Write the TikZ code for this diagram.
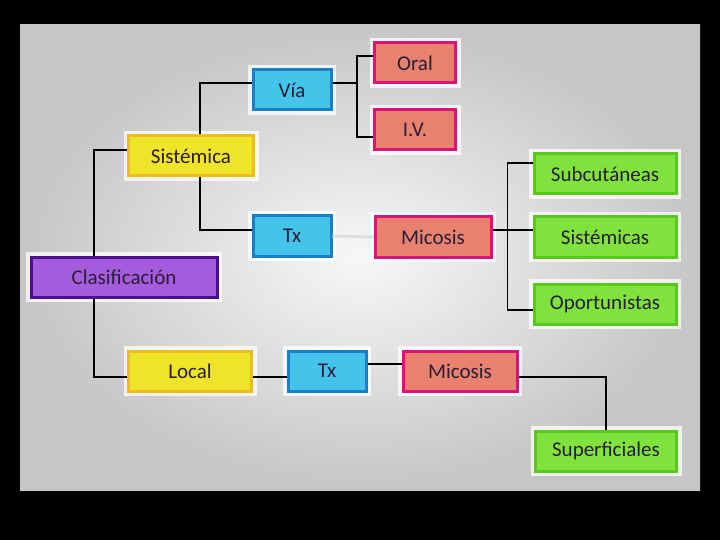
\documentclass[tikz,border=0pt]{standalone}
\usepackage{fontspec}
\setmainfont{Carlito}
\definecolor{purF}{HTML}{A45CDC}\definecolor{purD}{HTML}{4A0E8E}
\definecolor{yelF}{HTML}{F0E428}\definecolor{yelD}{HTML}{E8BE22}
\definecolor{bluF}{HTML}{44C4EA}\definecolor{bluD}{HTML}{1A7EC8}
\definecolor{pinF}{HTML}{E8826E}\definecolor{pinD}{HTML}{D4167C}
\definecolor{grnF}{HTML}{80E23C}\definecolor{grnD}{HTML}{56C81E}
\definecolor{txt}{HTML}{2A1E36}
\begin{document}
\begin{tikzpicture}[x=1pt,y=-1pt,
  box/.style={rectangle,line width=3pt,inner sep=0pt,
    font=\fontsize{21}{24}\selectfont,text=txt,minimum height=40pt,
    preaction={draw=white,line width=10pt,opacity=0.75}},
  purbox/.style={box,draw=purD,fill=purF},
  yelbox/.style={box,draw=yelD,fill=yelF},
  blubox/.style={box,draw=bluD,fill=bluF},
  pinbox/.style={box,draw=pinD,fill=pinF},
  grnbox/.style={box,draw=grnD,fill=grnF},
  conn/.style={draw=black,line width=1.3pt},
  faint/.style={draw=white!75!gray,line width=3pt}]
\useasboundingbox (0,0) rectangle (720,540);
\fill[black] (0,0) rectangle (720,540);
\shade[inner color=gray!6,outer color=gray!45] (20,25) rectangle (700,490);
% nodes
\node[purbox,minimum width=186pt] (clas) at (124,277) {Clasificación};
\node[yelbox,minimum width=125pt] (sist) at (191,156) {Sistémica};
\node[yelbox,minimum width=123pt] (local) at (190,371) {Local};
\node[blubox,minimum width=78pt] (via) at (292,90) {Vía};
\node[blubox,minimum width=78pt] (tx1) at (292,236) {Tx};
\node[blubox,minimum width=78pt] (tx2) at (327,371) {Tx};
\node[pinbox,minimum width=81pt] (oral) at (415,63) {Oral};
\node[pinbox,minimum width=81pt] (iv) at (415,130) {I.V.};
\node[pinbox,minimum width=116pt] (mic1) at (433,237) {Micosis};
\node[pinbox,minimum width=114pt] (mic2) at (460,371) {Micosis};
\node[grnbox,minimum width=142pt] (sub) at (605,174) {Subcutáneas};
\node[grnbox,minimum width=142pt] (sis) at (605,237) {Sistémicas};
\node[grnbox,minimum width=142pt] (opo) at (605,304) {Oportunistas};
\node[grnbox,minimum width=141pt] (sup) at (606,451) {Superficiales};
% connectors
\coordinate (vj) at (357,83);
\draw[faint] (tx1.east) -- (mic1.west);
\draw[conn] ([xshift=-30pt]clas.north) |- ([yshift=6pt]sist.west);
\draw[conn] ([xshift=-30pt]clas.south) |- ([yshift=-6pt]local.west);
\draw[conn] ([xshift=9pt]sist.north) |- ([yshift=7pt]via.west);
\draw[conn] ([xshift=9pt]sist.south) |- ([yshift=6pt]tx1.west);
\draw[conn] (via.east |- vj) -- (vj);
\draw[conn] ([yshift=7pt]oral.west) -| (vj |- iv.west) |- ([yshift=-7pt]iv.west);
\draw[conn] ([yshift=7pt]mic1.east) -- ([yshift=7pt]sis.west);
\draw[conn] ([yshift=11pt]sub.west) -- ++(-25,0) |- ([yshift=-6pt]opo.west);
\draw[conn] ([yshift=-6pt]local.east) -- ([yshift=-6pt]tx2.west);
\draw[conn] ([yshift=7pt]tx2.east) -- ([yshift=7pt]mic2.west);
\draw[conn] ([yshift=-6pt]mic2.east) -| (sup.north);
\end{tikzpicture}
\end{document}
